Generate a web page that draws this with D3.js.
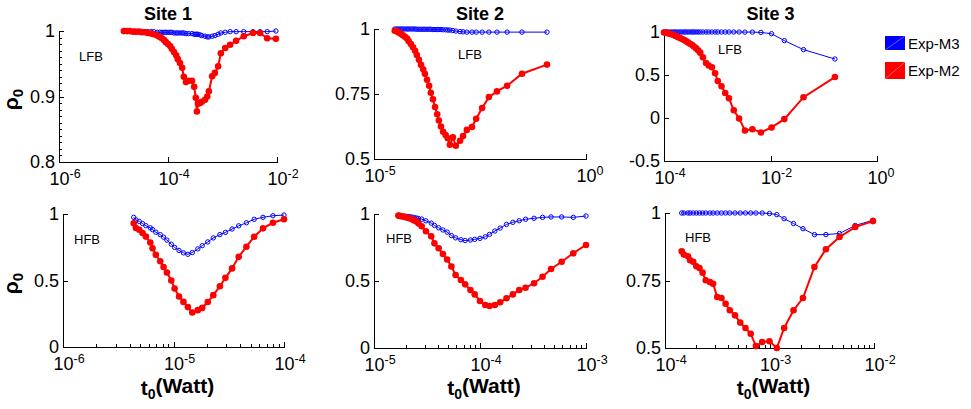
<!DOCTYPE html>
<html>
<head>
<meta charset="utf-8">
<script src="https://cdn.jsdelivr.net/npm/d3@7"></script>
<style>
  body { margin: 0; background: #fff; }
  svg { font-family: "Liberation Sans", Arial, sans-serif; }
  .axis path, .axis line { stroke: #000; shape-rendering: crispEdges; }
  .axis text { fill: #000; font-size: 18px; font-family: "Liberation Sans", Arial, sans-serif; }
</style>
</head>
<body>
<div id="chart"></div>
<script>
// ---- data (t0 stored as log10 exponent, rho0 values) ----
// Site 1, LFB
var site1LfbLogT = [-4.81,-4.75,-4.70,-4.64,-4.59,-4.53,-4.48,-4.42,-4.37,-4.31,-4.26,-4.20,-4.15,-4.11,-4.07,-4.04,-4.00,-3.96,-3.93,-3.89,-3.85,-3.82,-3.78,-3.74,-3.71,-3.67,-3.62,-3.56,-3.52,-3.49,-3.47,-3.45,-3.41,-3.38,-3.32,-3.28,-3.25,-3.19,-3.14,-3.08,-3.03,-2.95,-2.86,-2.75,-2.61,-2.44,-2.31,-2.18,-2.02];
var site1LfbM2 = [1.000,1.000,1.000,0.999,0.999,0.999,0.998,0.998,0.997,0.996,0.995,0.993,0.991,0.989,0.986,0.983,0.980,0.977,0.973,0.968,0.963,0.957,0.951,0.944,0.930,0.922,0.924,0.924,0.915,0.898,0.877,0.889,0.890,0.892,0.895,0.900,0.908,0.931,0.936,0.946,0.966,0.974,0.979,0.985,0.992,0.997,0.997,0.989,0.988];
var site1LfbM3 = [0.999,0.999,0.999,0.999,0.999,0.999,0.999,0.999,0.999,0.999,0.999,0.998,0.998,0.998,0.998,0.998,0.998,0.998,0.998,0.997,0.997,0.997,0.997,0.997,0.997,0.996,0.996,0.996,0.995,0.995,0.995,0.995,0.994,0.993,0.992,0.991,0.991,0.992,0.993,0.995,0.997,0.998,0.999,0.999,0.999,0.999,0.999,0.999,1.000];

// Site 2, LFB
var site2LfbLogT = [-4.51,-4.46,-4.41,-4.36,-4.32,-4.27,-4.22,-4.18,-4.13,-4.08,-4.03,-3.99,-3.94,-3.89,-3.84,-3.80,-3.75,-3.70,-3.66,-3.61,-3.56,-3.51,-3.47,-3.42,-3.37,-3.31,-3.26,-3.21,-3.14,-3.07,-2.97,-2.90,-2.81,-2.69,-2.59,-2.45,-2.29,-2.10,-1.86,-1.51,-0.92];
var site2LfbM2 = [0.993,0.990,0.986,0.981,0.976,0.970,0.963,0.953,0.942,0.930,0.916,0.900,0.882,0.862,0.845,0.828,0.805,0.782,0.755,0.730,0.700,0.672,0.648,0.625,0.605,0.592,0.580,0.555,0.583,0.551,0.570,0.588,0.612,0.623,0.655,0.696,0.738,0.760,0.782,0.828,0.863];
var site2LfbM3 = [1.000,1.000,1.000,1.000,1.000,1.000,1.000,1.000,1.000,1.000,1.000,0.999,0.999,0.999,0.999,0.999,0.999,0.999,0.999,0.998,0.998,0.998,0.998,0.998,0.997,0.997,0.996,0.996,0.994,0.992,0.990,0.989,0.988,0.988,0.988,0.988,0.988,0.988,0.988,0.988,0.988];

// Site 3, LFB
var site3LfbLogT = [-4.00,-3.96,-3.93,-3.89,-3.85,-3.81,-3.78,-3.74,-3.70,-3.66,-3.62,-3.59,-3.55,-3.51,-3.47,-3.44,-3.40,-3.36,-3.32,-3.27,-3.21,-3.16,-3.10,-3.04,-2.99,-2.92,-2.85,-2.78,-2.69,-2.59,-2.48,-2.34,-2.18,-1.98,-1.74,-1.38,-0.79];
var site3LfbM2 = [0.995,0.990,0.985,0.980,0.972,0.963,0.953,0.942,0.930,0.918,0.906,0.894,0.879,0.864,0.848,0.832,0.812,0.788,0.760,0.705,0.640,0.610,0.590,0.520,0.430,0.370,0.290,0.230,0.090,-0.005,-0.145,-0.130,-0.168,-0.110,-0.013,0.242,0.476];
var site3LfbM3 = [1.000,1.000,1.000,1.000,1.000,1.000,1.000,1.000,1.000,1.000,1.000,1.000,1.000,1.000,1.000,1.000,1.000,1.000,1.000,1.000,1.000,1.000,1.000,1.000,1.000,1.000,1.000,1.000,1.000,1.000,0.999,0.999,0.995,0.980,0.900,0.795,0.686];

// Site 1, HFB
var site1HfbLogT = [-5.36,-5.34,-5.31,-5.28,-5.25,-5.21,-5.19,-5.16,-5.12,-5.09,-5.06,-5.02,-4.99,-4.95,-4.91,-4.87,-4.83,-4.78,-4.74,-4.69,-4.64,-4.58,-4.53,-4.47,-4.41,-4.34,-4.27,-4.19,-4.10,-4.00];
var site1HfbM2 = [0.930,0.895,0.882,0.857,0.830,0.786,0.742,0.693,0.645,0.602,0.560,0.500,0.440,0.380,0.339,0.300,0.259,0.277,0.294,0.338,0.390,0.457,0.520,0.591,0.678,0.754,0.829,0.892,0.934,0.960];
var site1HfbM3 = [0.975,0.956,0.944,0.928,0.912,0.896,0.883,0.863,0.845,0.826,0.804,0.773,0.749,0.726,0.708,0.697,0.710,0.738,0.762,0.790,0.820,0.845,0.862,0.887,0.911,0.934,0.960,0.975,0.987,0.992];

// Site 2, HFB
var site2HfbLogT = [-4.77,-4.76,-4.74,-4.72,-4.70,-4.68,-4.66,-4.64,-4.62,-4.60,-4.58,-4.55,-4.51,-4.46,-4.43,-4.39,-4.35,-4.31,-4.27,-4.23,-4.18,-4.14,-4.09,-4.05,-4.00,-3.95,-3.91,-3.86,-3.81,-3.75,-3.69,-3.63,-3.57,-3.49,-3.41,-3.33,-3.23,-3.12,-3.00];
var site2HfbM2 = [0.988,0.986,0.983,0.980,0.976,0.972,0.966,0.960,0.952,0.944,0.930,0.909,0.871,0.834,0.781,0.744,0.702,0.660,0.608,0.545,0.508,0.475,0.433,0.400,0.351,0.321,0.313,0.321,0.341,0.371,0.400,0.433,0.450,0.483,0.532,0.590,0.644,0.707,0.769];
var site2HfbM3 = [0.988,0.987,0.986,0.984,0.983,0.981,0.979,0.977,0.973,0.970,0.966,0.962,0.949,0.932,0.915,0.897,0.881,0.865,0.839,0.822,0.808,0.802,0.806,0.811,0.818,0.830,0.848,0.873,0.895,0.922,0.938,0.950,0.961,0.968,0.975,0.978,0.978,0.975,0.985];

// Site 3, HFB
var site3HfbLogT = [-3.84,-3.82,-3.78,-3.76,-3.73,-3.70,-3.67,-3.64,-3.61,-3.57,-3.54,-3.50,-3.46,-3.42,-3.38,-3.33,-3.28,-3.23,-3.18,-3.13,-3.07,-3.00,-2.93,-2.86,-2.77,-2.68,-2.57,-2.46,-2.33,-2.18,-2.01];
var site3HfbM2 = [0.858,0.846,0.840,0.825,0.819,0.803,0.796,0.779,0.751,0.744,0.738,0.689,0.685,0.664,0.640,0.621,0.594,0.574,0.553,0.507,0.522,0.525,0.500,0.574,0.640,0.685,0.800,0.866,0.911,0.948,0.970];
var site3HfbM3 = [1.000,1.000,1.000,1.000,1.000,1.000,1.000,1.000,1.000,1.000,1.000,1.000,1.000,1.000,1.000,1.000,1.000,1.000,1.000,1.000,1.000,0.998,0.994,0.979,0.961,0.942,0.920,0.920,0.924,0.954,0.973];

// ---- tick values ----
var site1LfbXTicks = [1e-6, 1e-4, 1e-2];
var site2LfbXTicks = [1e-5, 1e0];
var site3LfbXTicks = [1e-4, 1e-2, 1e0];
var site1HfbXTicks = [1e-6, 1e-5, 1e-4];
var site2HfbXTicks = [1e-5, 1e-4, 1e-3];
var site3HfbXTicks = [1e-4, 1e-3, 1e-2];
var site1LfbYTicks = [0.8, 0.9, 1];
var site2LfbYTicks = [0.5, 0.75, 1];
var site3LfbYTicks = [-0.5, 0, 0.5, 1];
var site1HfbYTicks = [0, 0.5, 1];
var site2HfbYTicks = [0, 0.5, 1];
var site3HfbYTicks = [0.5, 0.75, 1];

var titles = ["Site 1", "Site 2", "Site 3"];
var seriesNames = ["Exp-M3", "Exp-M2"];
var seriesColors = ["#0000ff", "#ff0000"];

var svgWidth = 971;
var svgHeight = 409;

var svg = d3.select("#chart")
    .append("svg")
    .attr("width", svgWidth)
    .attr("height", svgHeight);

svg.append("rect").attr("width", svgWidth).attr("height", svgHeight).attr("fill", "#fff");

var panels = [
    {logT: site1LfbLogT, m3: site1LfbM3, m2: site1LfbM2, xTicks: site1LfbXTicks, yTicks: site1LfbYTicks,
     left: 59, right: 277, top: 31, bottom: 162, yMinor: true, xMinor: false,
     tag: "LFB", tagX: 79, tagY: 61, title: titles[0], yLabel: true, xLabel: false},
    {logT: site2LfbLogT, m3: site2LfbM3, m2: site2LfbM2, xTicks: site2LfbXTicks, yTicks: site2LfbYTicks,
     left: 374, right: 586, top: 29, bottom: 159, yMinor: false, xMinor: false,
     tag: "LFB", tagX: 458, tagY: 59, title: titles[1], yLabel: false, xLabel: false},
    {logT: site3LfbLogT, m3: site3LfbM3, m2: site3LfbM2, xTicks: site3LfbXTicks, yTicks: site3LfbYTicks,
     left: 664, right: 877, top: 32, bottom: 161, yMinor: false, xMinor: false,
     tag: "LFB", tagX: 718, tagY: 54, title: titles[2], yLabel: false, xLabel: false},
    {logT: site1HfbLogT, m3: site1HfbM3, m2: site1HfbM2, xTicks: site1HfbXTicks, yTicks: site1HfbYTicks,
     left: 63, right: 284, top: 214, bottom: 347, yMinor: false, xMinor: true,
     tag: "HFB", tagX: 74, tagY: 244, title: null, yLabel: true, xLabel: true},
    {logT: site2HfbLogT, m3: site2HfbM3, m2: site2HfbM2, xTicks: site2HfbXTicks, yTicks: site2HfbYTicks,
     left: 374, right: 586, top: 214, bottom: 348, yMinor: false, xMinor: true,
     tag: "HFB", tagX: 386, tagY: 243, title: null, yLabel: false, xLabel: true},
    {logT: site3HfbLogT, m3: site3HfbM3, m2: site3HfbM2, xTicks: site3HfbXTicks, yTicks: site3HfbYTicks,
     left: 665, right: 874, top: 213, bottom: 348, yMinor: false, xMinor: true,
     tag: "HFB", tagX: 685, tagY: 242, title: null, yLabel: false, xLabel: true}
];

panels.forEach(function (p) {
    var xDom = d3.extent(p.xTicks);
    var yDom = d3.extent(p.yTicks);
    var xScale = d3.scaleLog().domain(xDom).range([p.left, p.right]);
    var yScale = d3.scaleLinear().domain(yDom).range([p.bottom, p.top]);

    var rows = p.logT.map(function (e, i) {
        return {t: Math.pow(10, e), m3: p.m3[i], m2: p.m2[i]};
    });

    var g = svg.append("g");

    // minor ticks
    if (p.xMinor) {
        var minor = [];
        var e0 = Math.round(Math.log10(xDom[0])), e1 = Math.round(Math.log10(xDom[1]));
        for (var e = e0; e < e1; e++) {
            for (var k = 2; k <= 9; k++) minor.push(k * Math.pow(10, e));
        }
        g.append("g")
            .attr("class", "axis")
            .attr("transform", `translate(0, ${p.bottom})`)
            .call(d3.axisBottom(xScale).tickValues(minor).tickSize(-3).tickSizeOuter(0).tickFormat(""))
            .select(".domain").remove();
    }
    if (p.yMinor) {
        var yminor = d3.range(Math.round(yDom[0] * 100) + 1, Math.round(yDom[1] * 100)).map(function (v) { return v / 100; });
        g.append("g")
            .attr("class", "axis")
            .attr("transform", `translate(${p.left}, 0)`)
            .call(d3.axisLeft(yScale).tickValues(yminor).tickSize(-3).tickSizeOuter(0).tickFormat(""))
            .select(".domain").remove();
    }

    var xAxis = g.append("g")
        .attr("class", "axis")
        .attr("transform", `translate(0, ${p.bottom})`)
        .call(d3.axisBottom(xScale).tickValues(p.xTicks).tickSize(-5).tickSizeOuter(0).tickPadding(10));

    xAxis.selectAll(".tick text").each(function (d) {
        var t = d3.select(this);
        var ex = Math.round(Math.log10(d));
        t.text(null).attr("text-anchor", "start").attr("x", -10);
        t.append("tspan").text("10");
        t.append("tspan").attr("dy", "-0.55em").style("font-size", "12.5px").text(ex);
    });

    g.append("g")
        .attr("class", "axis")
        .attr("transform", `translate(${p.left}, 0)`)
        .call(d3.axisLeft(yScale).tickValues(p.yTicks).tickSize(-5).tickSizeOuter(0).tickPadding(4)
            .tickFormat(function (d) { return String(d); }));

    // lines
    var lineM3 = d3.line().x(d => xScale(d.t)).y(d => yScale(d.m3));
    var lineM2 = d3.line().x(d => xScale(d.t)).y(d => yScale(d.m2));

    g.append("path")
        .datum(rows)
        .attr("d", lineM3)
        .attr("fill", "none")
        .attr("stroke", seriesColors[0])
        .attr("stroke-width", 1);

    g.selectAll("circle.m3")
        .data(rows)
        .enter()
        .append("circle")
        .attr("class", "m3")
        .attr("cx", d => xScale(d.t))
        .attr("cy", d => yScale(d.m3))
        .attr("r", 2.2)
        .attr("fill", "none")
        .attr("stroke", seriesColors[0])
        .attr("stroke-width", 1);

    g.append("path")
        .datum(rows)
        .attr("d", lineM2)
        .attr("fill", "none")
        .attr("stroke", seriesColors[1])
        .attr("stroke-width", 2);

    g.selectAll("circle.m2")
        .data(rows)
        .enter()
        .append("circle")
        .attr("class", "m2")
        .attr("cx", d => xScale(d.t))
        .attr("cy", d => yScale(d.m2))
        .attr("r", 3.3)
        .attr("fill", seriesColors[1]);

    // band tag
    g.append("text")
        .attr("x", p.tagX)
        .attr("y", p.tagY)
        .style("font-size", "13px")
        .text(p.tag);

    if (p.title) {
        g.append("text")
            .attr("x", (p.left + p.right) / 2)
            .attr("y", 20)
            .attr("text-anchor", "middle")
            .style("font-size", "18px")
            .style("font-weight", "bold")
            .text(p.title);
    }

    if (p.yLabel) {
        var yl = g.append("text")
            .attr("transform", `translate(18, ${(p.top + p.bottom) / 2 + 3}) rotate(-90)`)
            .attr("text-anchor", "middle")
            .style("font-size", "21px")
            .style("font-weight", "bold");
        yl.append("tspan").text("ρ");
        yl.append("tspan").attr("dy", "0.3em").style("font-size", "15px").text("0");
    }

    if (p.xLabel) {
        var xl = g.append("text")
            .attr("x", (p.left + p.right) / 2 + 4)
            .attr("y", 395)
            .attr("text-anchor", "middle")
            .style("font-size", "21px")
            .style("font-weight", "bold");
        xl.append("tspan").text("t");
        xl.append("tspan").attr("dy", "0.3em").style("font-size", "14px").text("0");
        xl.append("tspan").attr("dy", "-0.3em").text("(Watt)");
    }
});

// legend
var legend = svg.append("g").attr("class", "legend");
var legendRows = [{y: 36, h: 14}, {y: 62, h: 17}];
seriesNames.forEach(function (name, i) {
    var r = legendRows[i];
    legend.append("rect")
        .attr("x", 885)
        .attr("y", r.y)
        .attr("width", 20)
        .attr("height", r.h)
        .attr("fill", seriesColors[i]);
    legend.append("line")
        .attr("x1", 885).attr("y1", r.y + r.h)
        .attr("x2", 905).attr("y2", r.y)
        .attr("stroke", "#fff")
        .attr("stroke-opacity", 0.35)
        .attr("stroke-width", 1);
    legend.append("text")
        .attr("x", 908)
        .attr("y", r.y + r.h / 2 + 5.5)
        .style("font-size", "15px")
        .text(name);
});
</script>
</body>
</html>
